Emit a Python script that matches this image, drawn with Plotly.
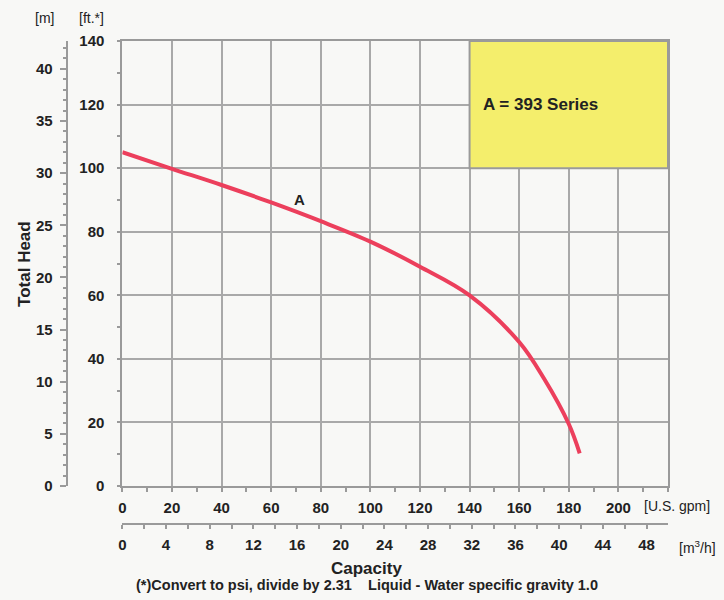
import plotly.graph_objects as go

# ---- data ----
capacity_gpm = [0, 20, 40, 60, 80, 100, 120, 140, 160, 170, 180, 184.4]
head_ft = [105, 99.8, 94.7, 89.2, 83.3, 76.9, 69.0, 60, 45.3, 33.8, 19.5, 10.3]
gpm_ticks = [0, 20, 40, 60, 80, 100, 120, 140, 160, 180, 200]
m3h_ticks = [0, 4, 8, 12, 16, 20, 24, 28, 32, 36, 40, 44, 48]
ft_ticks = [0, 20, 40, 60, 80, 100, 120, 140]
m_ticks = [0, 5, 10, 15, 20, 25, 30, 35, 40]
series_label = "A"
legend_text = "A = 393 Series"

GPM_MAX = 220
FT_MAX = 140
FT_PER_M = 3.281
GPM_PER_M3H = 4.4029

# ---- layout geometry (pixels) ----
WIDTH, HEIGHT = 724, 600
L, R, T, B = 10, 56, 41, 20
PW = WIDTH - L - R
PH = HEIGHT - T - B


def px(x):
    return (x - L) / PW


def py(y):
    return (HEIGHT - B - y) / PH


FONT = "Liberation Sans, Arial, sans-serif"
GRID = "#a9a9a9"
AXIS = "#9a9a9a"
BG = "#f8f8f6"
INK = "#222222"

fig = go.Figure()
fig.add_trace(go.Scatter(
    x=capacity_gpm, y=head_ft, mode="lines",
    line=dict(color="#ec3f5c", width=4, shape="spline", smoothing=1.0),
    hoverinfo="skip", showlegend=False,
))
# invisible traces so the secondary (metric) axes are drawn
fig.add_trace(go.Scatter(x=[0], y=[0], xaxis="x2", yaxis="y", mode="markers",
                         marker=dict(opacity=0), showlegend=False, hoverinfo="skip"))
fig.add_trace(go.Scatter(x=[0], y=[0], xaxis="x", yaxis="y2", mode="markers",
                         marker=dict(opacity=0), showlegend=False, hoverinfo="skip"))

tickfont = dict(family=FONT, size=15, color=INK, weight="bold")

fig.update_layout(
    width=WIDTH, height=HEIGHT,
    margin=dict(l=L, r=R, t=T, b=B),
    paper_bgcolor=BG, plot_bgcolor=BG,
    font=dict(family=FONT, color=INK),
    xaxis=dict(
        domain=[px(119), 1], range=[0, GPM_MAX], tickvals=gpm_ticks,
        showgrid=True, gridcolor=GRID, gridwidth=2, zeroline=False,
        showline=True, linecolor=AXIS, linewidth=2, mirror=True,
        ticks="outside", ticklen=4, tickcolor=AXIS, tickwidth=1.5,
        minor=dict(dtick=10, tick0=0, ticklen=4, tickcolor=AXIS, showgrid=False),
        tickfont=tickfont, ticklabelstandoff=3, fixedrange=True,
    ),
    yaxis=dict(
        domain=[py(486), 1], range=[0, FT_MAX], tickvals=ft_ticks,
        showgrid=True, gridcolor=GRID, gridwidth=2, zeroline=False,
        showline=True, linecolor=AXIS, linewidth=2, mirror=True,
        ticks="outside", ticklen=3, tickcolor=AXIS, tickwidth=1.5,
        minor=dict(dtick=10, tick0=0, ticklen=3, tickcolor=AXIS, showgrid=False),
        tickfont=tickfont, ticklabelstandoff=10, fixedrange=True,
    ),
    xaxis2=dict(
        overlaying="x", anchor="free", position=py(524), side="bottom",
        range=[0, GPM_MAX / GPM_PER_M3H], tickvals=m3h_ticks,
        showgrid=False, zeroline=False,
        showline=True, linecolor=AXIS, linewidth=2,
        ticks="outside", ticklen=4, tickcolor=AXIS, tickwidth=1.5,
        minor=dict(dtick=2, tick0=0, ticklen=4, tickcolor=AXIS),
        tickfont=tickfont, ticklabelstandoff=3, fixedrange=True,
    ),
    yaxis2=dict(
        overlaying="y", anchor="free", position=px(63), side="left",
        range=[0, FT_MAX / FT_PER_M], tickvals=m_ticks,
        showgrid=False, zeroline=False,
        showline=True, linecolor=AXIS, linewidth=2,
        ticks="outside", ticklen=6, tickcolor=AXIS, tickwidth=1.5,
        minor=dict(dtick=1, tick0=0, ticklen=3, tickcolor=AXIS),
        tickfont=tickfont, ticklabelstandoff=4, fixedrange=True,
    ),
)

# legend box
fig.add_shape(type="rect", xref="x", yref="y", x0=140, x1=GPM_MAX, y0=100, y1=FT_MAX,
              fillcolor="#f4ee6c", line=dict(color=AXIS, width=2), layer="above")


def note(x, y, text, size, bold=True, angle=0, xanchor="center"):
    return dict(x=x, y=y, xref="paper", yref="paper", text=text, showarrow=False,
                xanchor=xanchor, yanchor="middle", textangle=angle,
                font=dict(family=FONT, size=size, color=INK,
                          weight="bold" if bold else "normal"))


ann = [
    note(px(480), py(104), legend_text, 17, xanchor="left"),
    note(px(297), py(199), series_label, 15),
    note(px(41), py(18), "[m]", 14, bold=False),
    note(px(88), py(18), "[ft.*]", 14, bold=False),
    note(px(20), py(264), "Total Head", 17, angle=-90),
    note(px(642), py(506), "[U.S. gpm]", 14, bold=False, xanchor="left"),
    note(px(677), py(547), "[m<sup>3</sup>/h]", 14, bold=False, xanchor="left"),
    note(px(365), py(568), "Capacity", 17),
    note(px(365), py(585),
         "(*)Convert to psi, divide by 2.31&nbsp;&nbsp;&nbsp;&nbsp;Liquid - Water specific gravity 1.0", 14.5),
]
fig.update_layout(annotations=ann)

fig.write_html("out.html", config={"displayModeBar": False},
               post_script="document.body.style.margin='0';")
